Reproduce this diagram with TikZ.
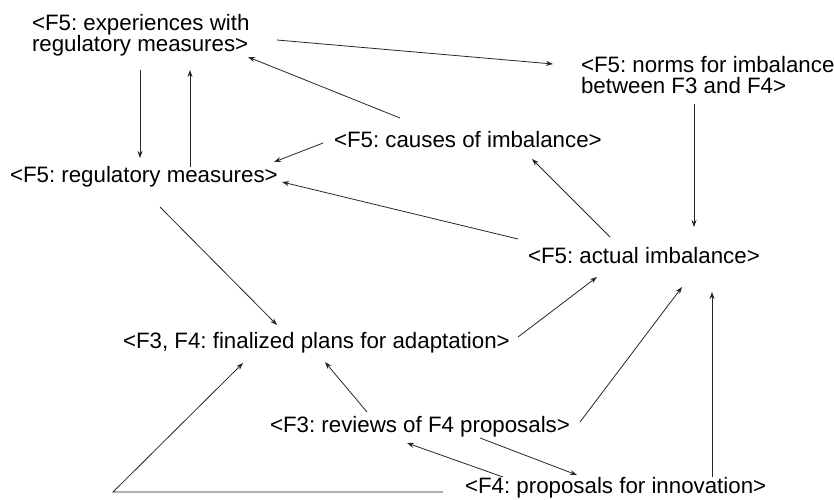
\documentclass[tikz,border=0pt]{standalone}
\usepackage{fontspec}
\setmainfont{Liberation Sans}
\usetikzlibrary{arrows.meta}
\begin{document}
\begin{tikzpicture}[x=1pt,y=-1pt,
  label/.style={inner sep=0pt, outer sep=0pt, anchor=base west, align=left,
    font=\fontsize{22.3}{21}\selectfont\frenchspacing},
  arr/.style={draw=black!85, line width=0.8pt,
    -{Stealth[length=7pt,width=5pt]}}]
\useasboundingbox (0,0) rectangle (834,499);

% statements (base anchor = baseline of the last line)
\node[label] (exp)    at (32,51)   {<F5: experiences with\\regulatory measures>};
\node[label] (norms)  at (581,93)  {<F5: norms for imbalance\\between F3 and F4>};
\node[label] (causes) at (334,147) {<F5: causes of imbalance>};
\node[label] (reg)    at (10,182)  {<F5: regulatory measures>};
\node[label] (actual) at (528,263) {<F5: actual imbalance>};
\node[label] (fin)    at (123,348) {<F3, F4: finalized plans for adaptation>};
\node[label] (rev)    at (270,432) {<F3: reviews of F4 proposals>};
\node[label] (inno)   at (465,493) {<F4: proposals for innovation>};

\coordinate (corner) at (113,492);

% relations
\draw[arr] ([shift={(245,-11)}]exp.base west)   -- ([shift={(-28,-29)}]norms.base west);
\draw[arr] ([shift={(66,-29)}]causes.base west) -- ([shift={(216,6)}]exp.base west);
\draw[arr] ([shift={(108,19)}]exp.base west)    -- ([shift={(130,-24)}]reg.base west);
\draw[arr] ([shift={(180,-15)}]reg.base west)   -- ([shift={(158,19)}]exp.base west);
\draw[arr] ([shift={(-11,-4)}]causes.base west) -- ([shift={(264,-20)}]reg.base west);
\draw[arr] ([shift={(-10,-24)}]actual.base west) -- ([shift={(272,0)}]reg.base west);
\draw[arr] ([shift={(82,-26)}]actual.base west) -- ([shift={(198,12)}]causes.base west);
\draw[arr] ([shift={(113,11)}]norms.base west)  -- ([shift={(166,-36)}]actual.base west);
\draw[arr] ([shift={(150,25)}]reg.base west)    -- ([shift={(154,-23)}]fin.base west);
\draw[arr] ([shift={(395,-11)}]fin.base west)   -- ([shift={(69,14)}]actual.base west);
\draw[arr] ([shift={(97,-20)}]rev.base west)    -- ([shift={(202,14)}]fin.base west);
\draw[arr] ([shift={(310,-10)}]rev.base west)   -- ([shift={(154,24)}]actual.base west);
\draw[arr] ([shift={(210,6)}]rev.base west)     -- ([shift={(112,-18)}]inno.base west);
\draw[arr] ([shift={(38,-16)}]inno.base west)   -- ([shift={(137,11)}]rev.base west);
\draw[arr] ([shift={(247,-16)}]inno.base west)  -- ([shift={(184,29)}]actual.base west);
\draw[arr] ([shift={(-22,-1)}]inno.base west) -- (corner) -- ([shift={(120,15)}]fin.base west);
\end{tikzpicture}
\end{document}
